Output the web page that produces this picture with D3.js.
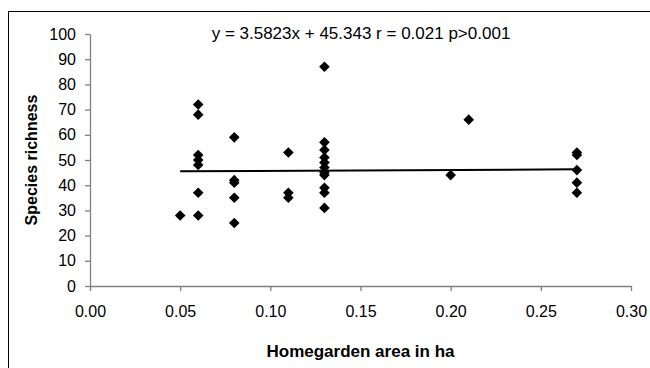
<!DOCTYPE html>
<html lang="en">
    <head>
        <meta charset="utf-8">
        <title>Species richness vs homegarden area</title>
        <script type="text/javascript" src="https://d3js.org/d3.v7.min.js"></script>
        <style type="text/css">
            body { margin: 0; background: #fff; }
        </style>
    </head>
    <body>
        <script type="text/javascript">

        // homegarden area (ha) and species richness
        const area = [0.05,
            0.06, 0.06, 0.06, 0.06, 0.06, 0.06, 0.06,
            0.08, 0.08, 0.08, 0.08, 0.08,
            0.11, 0.11, 0.11,
            0.13, 0.13, 0.13, 0.13, 0.13, 0.13, 0.13, 0.13, 0.13, 0.13, 0.13,
            0.20, 0.21,
            0.27, 0.27, 0.27, 0.27, 0.27];
        const richness = [28,
            72, 68, 52, 50, 48, 37, 28,
            59, 42, 41, 35, 25,
            53, 37, 35,
            87, 57, 54, 51, 49, 47, 45, 44, 39, 37, 31,
            44, 66,
            53, 52, 46, 41, 37];
        const xTicks = [0, 0.05, 0.10, 0.15, 0.20, 0.25, 0.30];
        const yTicks = [0, 10, 20, 30, 40, 50, 60, 70, 80, 90, 100];
        const slope = 3.5823, intercept = 45.343;
        const trendRange = [0.05, 0.27];
        const equation = "y = 3.5823x + 45.343 r = 0.021 p>0.001";

        const width = 650;
        const height = 368;
        const plotLeft = 90, plotRight = 631, plotTop = 34, plotBottom = 286;
        const font = "'Liberation Sans', Arial, sans-serif";

        const xScale = d3.scaleLinear().domain([0, 0.3]).range([plotLeft, plotRight]);
        const yScale = d3.scaleLinear().domain([0, 100]).range([plotBottom, plotTop]);

        const svg = d3.select("body")
                    .append("svg")
                    .attr("width", width)
                    .attr("height", height);

        // outer frame (only left and top edges fall inside the picture)
        svg.append("rect")
            .attr("x", 8.5).attr("y", 11.5)
            .attr("width", 700).attr("height", 400)
            .attr("fill", "none")
            .attr("stroke", "#000")
            .attr("stroke-width", 1);

        const bottomAxis = d3.axisBottom(xScale)
            .tickValues(xTicks)
            .tickFormat(d3.format(".2f"))
            .tickSizeInner(5).tickSizeOuter(0).tickPadding(15);
        const leftAxis = d3.axisLeft(yScale)
            .tickValues(yTicks)
            .tickSizeInner(5).tickSizeOuter(0).tickPadding(9);

        const gx = svg.append("g")
            .attr("transform", "translate(0," + plotBottom + ")")
            .call(bottomAxis);
        const gy = svg.append("g")
            .attr("transform", "translate(" + plotLeft + ",0)")
            .call(leftAxis);

        [gx, gy].forEach(g => {
            g.selectAll("path, line").attr("stroke", "#808080").attr("stroke-width", 1.3);
            g.selectAll("text")
                .style("font-family", font)
                .style("font-size", "16px")
                .attr("fill", "#000");
        });

        // trend line
        svg.append("line")
            .attr("x1", xScale(trendRange[0]))
            .attr("y1", yScale(intercept + slope * trendRange[0]))
            .attr("x2", xScale(trendRange[1]))
            .attr("y2", yScale(intercept + slope * trendRange[1]))
            .attr("stroke", "#000")
            .attr("stroke-width", 2);

        // diamond markers
        const diamond = d3.symbol().type(d3.symbolDiamond2).size(72);
        svg.selectAll("path.pt")
            .data(area.map((a, i) => ({a: a, r: richness[i]})))
            .enter()
            .append("path")
            .attr("class", "pt")
            .attr("d", diamond)
            .attr("transform", d => "translate(" + xScale(d.a) + "," + yScale(d.r) + ")")
            .attr("fill", "#000");

        svg.append("text")
            .attr("x", 361)
            .attr("y", 39)
            .attr("text-anchor", "middle")
            .style("font-family", font)
            .style("font-size", "17px")
            .text(equation);

        svg.append("text")
            .attr("x", (plotLeft + plotRight) / 2)
            .attr("y", 357)
            .attr("text-anchor", "middle")
            .style("font-family", font)
            .style("font-size", "17px")
            .style("font-weight", "bold")
            .text("Homegarden area in ha");

        svg.append("text")
            .attr("transform", "translate(37," + ((plotTop + plotBottom) / 2) + ") rotate(-90)")
            .attr("text-anchor", "middle")
            .style("font-family", font)
            .style("font-size", "16px")
            .style("font-weight", "bold")
            .text("Species richness");

        </script>
    </body>
</html>
